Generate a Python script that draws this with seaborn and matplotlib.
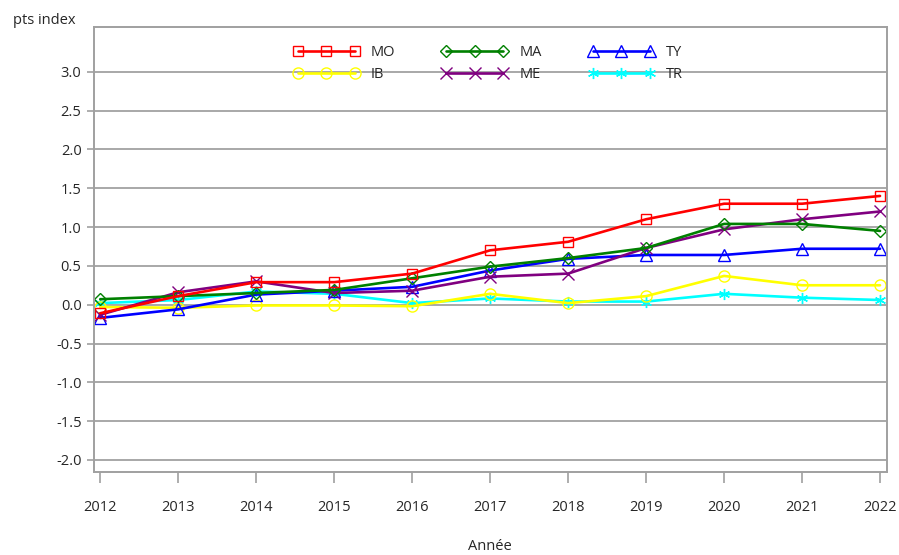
import numpy as np
import pandas as pd
import matplotlib
matplotlib.use("Agg")
import matplotlib.pyplot as plt
import seaborn as sns

# data
years = [2012, 2013, 2014, 2015, 2016, 2017, 2018, 2019, 2020, 2021, 2022]
mo = [-0.11, 0.11, 0.29, 0.29, 0.40, 0.70, 0.81, 1.10, 1.30, 1.30, 1.40]
ma = [0.07, 0.11, 0.15, 0.19, 0.34, 0.49, 0.60, 0.73, 1.04, 1.04, 0.95]
ty = [-0.17, -0.06, 0.13, 0.18, 0.23, 0.44, 0.59, 0.64, 0.64, 0.72, 0.72]
ib = [-0.03, -0.04, -0.01, -0.01, -0.02, 0.14, 0.02, 0.11, 0.37, 0.25, 0.25]
me = [-0.13, 0.16, 0.30, 0.15, 0.18, 0.36, 0.40, 0.73, 0.97, 1.10, 1.20]
tr = [0.02, 0.06, 0.17, 0.14, 0.02, 0.08, 0.04, 0.04, 0.14, 0.09, 0.06]

series = {"MO": mo, "IB": ib, "MA": ma, "ME": me, "TY": ty, "TR": tr}
colors = {"MO": "#ff0000", "IB": "#ffff00", "MA": "#008000",
          "ME": "#800080", "TY": "#0000ff", "TR": "#00ffff"}
markers = {"MO": "s", "IB": "o", "MA": "D", "ME": "x", "TY": "^", "TR": (6, 2, 0)}
msizes = {"MO": 7.5, "IB": 8, "MA": 6, "ME": 8, "TY": 8.5, "TR": 8}

df = pd.DataFrame({"Année": years, **series})
long_df = df.melt(id_vars="Année", var_name="serie", value_name="val")

sns.set_style("white")
plt.rcParams["font.family"] = ["Open Sans", "DejaVu Sans"]
plt.rcParams["font.size"] = 10.5

fig, ax = plt.subplots(figsize=(8.99, 5.55), dpi=100)
fig.subplots_adjust(left=0.1046, right=0.9867, top=0.9514, bottom=0.1495)

# draw in the order that the reference stacks them
for name in ["TR", "IB", "TY", "ME", "MA", "MO"]:
    sub = long_df[long_df["serie"] == name]
    sns.lineplot(data=sub, x="Année", y="val", ax=ax, color=colors[name],
                 marker=markers[name], markersize=msizes[name],
                 markerfacecolor="none", markeredgecolor=colors[name],
                 markeredgewidth=1.0, linewidth=1.9, label=name, legend=False)

ax.set_xlim(2011.92, 2022.09)
ax.set_ylim(-2.155, 3.576)
ax.set_xticks(years)
ax.set_xticklabels([str(y) for y in years])
yt = np.arange(-2.0, 3.01, 0.5)
ax.set_yticks(yt)
ax.set_yticklabels([f"{v:.1f}" for v in yt])
ax.yaxis.grid(True, color="#a8a8a8", linewidth=1.4)
ax.xaxis.grid(False)
for sp in ax.spines.values():
    sp.set_color("#a0a0a0")
    sp.set_linewidth(1.4)
ax.tick_params(axis="x", direction="out", length=8, width=1.2, color="#a0a0a0",
               pad=12, bottom=True)
ax.tick_params(axis="y", direction="out", length=5, width=1.2, color="#a0a0a0",
               pad=4, left=True)
ax.set_xlabel("")
ax.set_ylabel("")

fig.text(13 / 899, 1 - 20 / 555, "pts index", ha="left", va="center", fontsize=10.5)
fig.text(490 / 899, 1 - 547 / 555, "Année", ha="center", va="center", fontsize=10.5)

handles, labels = ax.get_legend_handles_labels()
order = ["MO", "IB", "MA", "ME", "TY", "TR"]
hmap = dict(zip(labels, handles))
ax.legend([hmap[k] for k in order], order, ncol=3, loc="center",
          bbox_to_anchor=(0.497, 0.918), frameon=False, numpoints=3,
          handlelength=4.5, handletextpad=0.8, columnspacing=3.2,
          labelspacing=0.5, fontsize=10.5)

fig.savefig("out.png", dpi=100)
